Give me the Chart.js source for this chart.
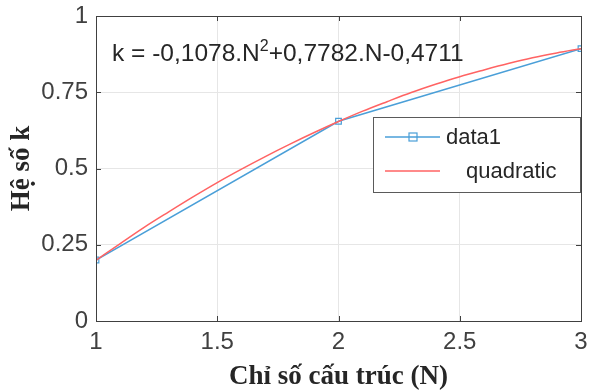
<!DOCTYPE html>
<html>
<head>
<meta charset="utf-8">
<script src="https://cdn.jsdelivr.net/npm/chart.js@4"></script>
<style>
  html, body { margin: 0; padding: 0; background: #fff; }
  #wrap { width: 592px; height: 391px; }
</style>
</head>
<body>
<div id="wrap"><canvas id="chart" width="592" height="391"></canvas></div>
<script>
// measured points
const dataN = [1, 2, 3];
const dataK = [0.2, 0.655, 0.893];

// fitted curve
const quadN = [1, 1.1, 1.2, 1.3, 1.4, 1.5, 1.6, 1.7, 1.8, 1.9, 2, 2.1, 2.2, 2.3, 2.4, 2.5, 2.6, 2.7, 2.8, 2.9, 3];
const quadK = [0.199, 0.254, 0.308, 0.358, 0.407, 0.454, 0.498, 0.540, 0.580, 0.618, 0.654, 0.688, 0.719, 0.749, 0.776, 0.801, 0.823, 0.844, 0.863, 0.879, 0.893];

const xTicks = [1, 1.5, 2, 2.5, 3];
const yTicks = [0, 0.25, 0.5, 0.75, 1];

const xTitle = 'Chỉ số cấu trúc (N)';
const yTitle = 'Hệ số k';
const legendLabels = ['data1', 'quadratic'];

const blue = '#4a9fd8';
const red = '#ff6363';
const tickFont = { family: "'Liberation Sans', Arial, sans-serif", size: 24 };
const titleFont = { family: "'Liberation Serif', 'Times New Roman', serif", size: 27, weight: 'bold', lineHeight: 1 };

// box, inner ticks, equation and legend drawn on top of the plot
const matlabLook = {
    id: 'matlabLook',
    afterDatasetsDraw(chart) {
        const { ctx, chartArea: a, scales: { x, y } } = chart;
        ctx.save();
        ctx.strokeStyle = '#404040';
        ctx.lineWidth = 1;
        ctx.strokeRect(Math.round(a.left) + 0.5, Math.round(a.top) + 0.5, Math.round(a.right - a.left), Math.round(a.bottom - a.top));
        ctx.beginPath();
        xTicks.forEach(v => {
            const px = Math.round(x.getPixelForValue(v)) + 0.5;
            ctx.moveTo(px, a.bottom); ctx.lineTo(px, a.bottom - 5);
            ctx.moveTo(px, a.top); ctx.lineTo(px, a.top + 5);
        });
        yTicks.forEach(v => {
            const py = Math.round(y.getPixelForValue(v)) + 0.5;
            ctx.moveTo(a.left, py); ctx.lineTo(a.left + 5, py);
            ctx.moveTo(a.right, py); ctx.lineTo(a.right - 5, py);
        });
        ctx.stroke();

        // equation
        ctx.fillStyle = '#262626';
        ctx.textBaseline = 'alphabetic';
        ctx.font = "24.5px 'Liberation Sans', Arial, sans-serif";
        let tx = 112;
        const base = 61;
        const p1 = 'k = -0,1078.N';
        ctx.fillText(p1, tx, base);
        tx += ctx.measureText(p1).width;
        ctx.font = "16px 'Liberation Sans', Arial, sans-serif";
        ctx.fillText('2', tx, base - 10);
        tx += ctx.measureText('2').width;
        ctx.font = "24.5px 'Liberation Sans', Arial, sans-serif";
        ctx.fillText('+0,7782.N-0,4711', tx, base);

        // legend
        const lx = 373, ly = 117, lw = 207, lh = 75;
        ctx.fillStyle = '#fff';
        ctx.fillRect(lx, ly, lw, lh);
        ctx.strokeStyle = '#5a5a5a';
        ctx.strokeRect(lx + 0.5, ly + 0.5, lw, lh);
        const rows = [
            { y: 137, color: blue, marker: true, tx: 446 },
            { y: 171, color: red, marker: false, tx: 466 }
        ];
        ctx.font = "22px 'Liberation Sans', Arial, sans-serif";
        ctx.textBaseline = 'middle';
        rows.forEach((r, i) => {
            ctx.strokeStyle = r.color;
            ctx.lineWidth = 1.5;
            ctx.beginPath();
            ctx.moveTo(385, r.y); ctx.lineTo(440, r.y);
            ctx.stroke();
            if (r.marker) {
                ctx.lineWidth = 1.2;
                ctx.strokeRect(409, r.y - 4, 8, 8);
            }
            ctx.fillStyle = '#262626';
            ctx.fillText(legendLabels[i], r.tx, r.y + 1);
        });
        ctx.restore();
    }
};

new Chart(document.getElementById('chart').getContext('2d'), {
    type: 'line',
    data: {
        datasets: [
            {
                label: 'quadratic',
                data: quadN.map((n, i) => ({ x: n, y: quadK[i] })),
                borderColor: red,
                borderWidth: 1.5,
                pointRadius: 0,
                tension: 0.4,
                cubicInterpolationMode: 'monotone'
            },
            {
                label: 'data1',
                data: dataN.map((n, i) => ({ x: n, y: dataK[i] })),
                borderColor: blue,
                borderWidth: 1.5,
                pointStyle: 'rect',
                pointRadius: 4,
                pointBorderWidth: 1.2,
                pointBackgroundColor: 'rgba(0,0,0,0)',
                pointBorderColor: blue,
                tension: 0
            }
        ]
    },
    options: {
        responsive: false,
        animation: false,
        layout: { padding: { top: 16, right: 11, left: 0, bottom: 0 } },
        plugins: { legend: { display: false }, tooltip: { enabled: false } },
        scales: {
            x: {
                type: 'linear',
                min: 1,
                max: 3,
                afterBuildTicks: s => { s.ticks = xTicks.map(v => ({ value: v })); },
                afterFit: s => { s.height = 70; s.paddingRight = 0; s.paddingLeft = 0; },
                ticks: { font: tickFont, color: '#404040', padding: 7, maxRotation: 0, callback: v => String(v) },
                grid: { color: '#e6e6e6', drawTicks: false },
                border: { display: false },
                title: { display: true, text: xTitle, font: titleFont, color: '#262626', padding: { top: 0, bottom: 0 } }
            },
            y: {
                type: 'linear',
                min: 0,
                max: 1,
                afterBuildTicks: s => { s.ticks = yTicks.map(v => ({ value: v })); },
                afterFit: s => { s.width = 96; s.paddingTop = 0; s.paddingBottom = 0; },
                ticks: { font: tickFont, color: '#404040', padding: 8, callback: v => String(v) },
                grid: { color: '#e6e6e6', drawTicks: false },
                border: { display: false },
                title: { display: true, text: yTitle, font: titleFont, color: '#262626', padding: { top: 9, bottom: 0 } }
            }
        }
    },
    plugins: [matlabLook]
});
</script>
</body>
</html>
